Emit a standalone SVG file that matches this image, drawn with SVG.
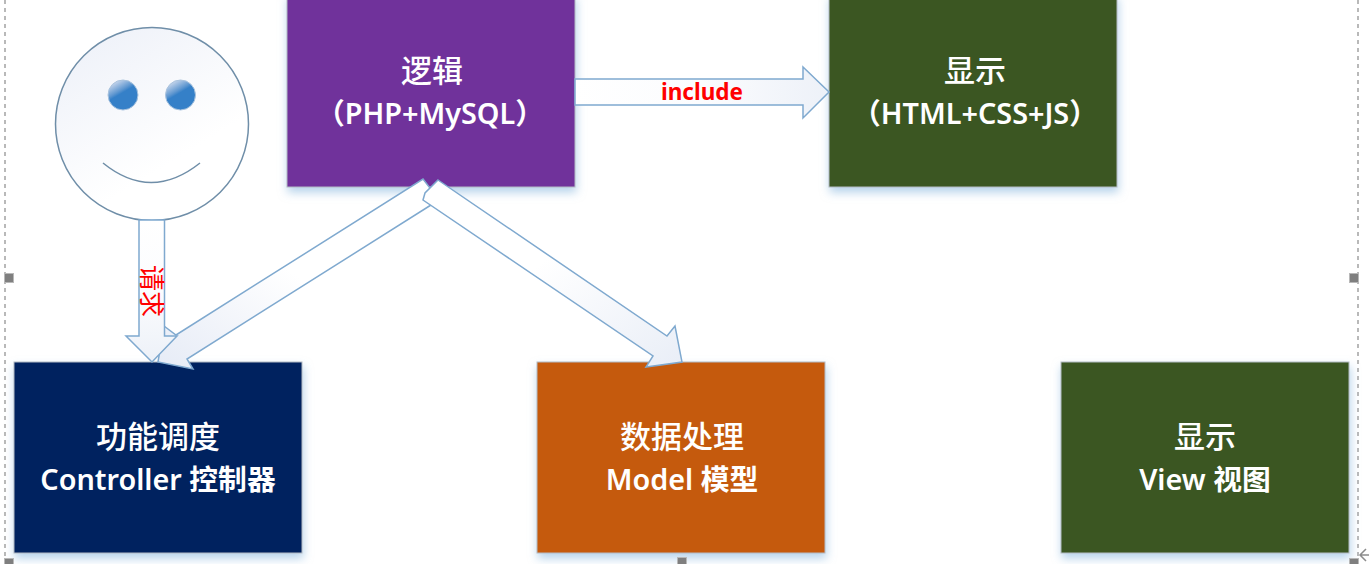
<svg xmlns="http://www.w3.org/2000/svg" width="1371" height="564" viewBox="0 0 1371 564">
<style>
.box{stroke:#b4bcc4;stroke-width:1;filter:url(#sh)}
.t{fill:#fff;font-family:"Noto Sans","Noto Sans CJK SC",sans-serif;font-weight:500;font-size:31px;text-anchor:middle}
.s{font-size:28.800px;font-weight:600}
.a{fill:url(#ag);stroke:#7fa9cf;stroke-width:1.5;stroke-linejoin:miter}
.sel{fill:none;stroke:#a3a3a3;stroke-width:1.5;stroke-dasharray:4 4}
.h{fill:#7f7f7f;stroke:#b8b8b8;stroke-width:1}
.red{fill:#f00;font-family:"Noto Sans","Noto Sans CJK SC",sans-serif;text-anchor:middle}
</style>
<defs>
<filter id="sh" x="-10%" y="-10%" width="120%" height="120%"><feDropShadow dx="1" dy="5" stdDeviation="5" flood-color="#8fbce0" flood-opacity="0.65"/></filter>
<linearGradient id="ag" x1="0" y1="0" x2="1" y2="1"><stop offset="0" stop-color="#fff"/><stop offset="0.45" stop-color="#fff"/><stop offset="1" stop-color="#e9eef7"/></linearGradient>
<linearGradient id="ag2" x1="1" y1="0" x2="0" y2="1"><stop offset="0" stop-color="#fff"/><stop offset="0.5" stop-color="#fff"/><stop offset="1" stop-color="#e6ebf6"/></linearGradient>
<linearGradient id="ag3" x1="0" y1="0" x2="1" y2="0"><stop offset="0" stop-color="#fff"/><stop offset="0.5" stop-color="#fbfcfe"/><stop offset="1" stop-color="#edf1f8"/></linearGradient>
<linearGradient id="ag4" x1="0" y1="0" x2="0" y2="1"><stop offset="0" stop-color="#fff"/><stop offset="0.5" stop-color="#fbfcfe"/><stop offset="1" stop-color="#edf1f8"/></linearGradient>
<linearGradient id="face" x1="0.2" y1="0.05" x2="0.6" y2="0.7"><stop offset="0" stop-color="#eff2f9"/><stop offset="1" stop-color="#fff"/></linearGradient>
<linearGradient id="eye" x1="0.25" y1="0" x2="0.6" y2="0.6"><stop offset="0" stop-color="#d5deef"/><stop offset="0.55" stop-color="#5f97d0"/><stop offset="0.7" stop-color="#3580c8"/><stop offset="1" stop-color="#3580c8"/></linearGradient>
</defs>
<rect width="1371" height="564" fill="#fff"/>
<g id="selection">
<path class="sel" d="M5 0V564M1358 0V558"/>
<rect class="h" x="4.500" y="273.500" width="9" height="9"/>
<rect class="h" x="1349.500" y="273.500" width="9" height="9"/>
</g>
<g id="node-logic"><rect class="box" x="287" y="-6" width="288" height="193" fill="#70309b"/>
<text class="t" x="432" y="82">逻辑</text><text class="t s" x="430" y="124">（PHP+MySQL）</text></g>
<g id="node-display-top"><rect class="box" x="829" y="-6" width="288" height="193" fill="#3a5623"/>
<text class="t" x="975" y="82">显示</text><text class="t s" x="975" y="124">（HTML+CSS+JS）</text></g>
<g id="node-controller"><rect class="box" x="14" y="362" width="288" height="191" fill="#00205f"/>
<text class="t" x="158" y="448">功能调度</text><text class="t s" x="158" y="490">Controller 控制器</text></g>
<g id="node-model"><rect class="box" x="537" y="362" width="288" height="191" fill="#c55a11"/>
<text class="t" x="682" y="448">数据处理</text><text class="t s" x="682" y="490">Model 模型</text></g>
<g id="node-view"><rect class="box" x="1061" y="362" width="288" height="191" fill="#3a5623"/>
<text class="t" x="1205" y="448">显示</text><text class="t s" x="1205" y="490">View 视图</text></g>
<g id="node-user">
<circle cx="152" cy="124" r="96.500" fill="url(#face)" stroke="#6f8ea8" stroke-width="1.500"/>
<circle cx="123" cy="95" r="15" fill="url(#eye)" stroke="#a9c3de" stroke-width="1"/>
<circle cx="180.500" cy="95" r="15" fill="url(#eye)" stroke="#a9c3de" stroke-width="1"/>
<path d="M103 163Q151 202 200 163" fill="none" stroke="#6f8ea8" stroke-width="1.500"/>
</g>
<g id="connectors">
<path class="a" style="fill:url(#ag2)" d="M423 179L430 188L431 205L187 359L193 369L158 362L164 326L176 335Z"/>
<path class="a" style="fill:url(#ag4)" d="M139 220H164.500V336H177L152 362L126 336H139Z"/>
<path class="a" d="M438 180L667 336L675 326L682 362L646 367L653 356L423 200L425 193Z"/>
<path class="a" style="fill:url(#ag3)" d="M575 79H803V67L829 92L803 118V105H575Z"/>
<text class="red" x="702" y="100" font-size="22.500" font-weight="700">include</text>
<text class="red" x="151" y="291" font-size="26" font-weight="400" transform="rotate(90 151 291)" dy="9">请求</text>
</g>
<g id="handles">
<rect class="h" x="4.500" y="558.500" width="9" height="9"/>
<rect class="h" x="677.500" y="557.500" width="9" height="9"/>
<rect class="h" x="1349.500" y="558.500" width="9" height="9"/>
<path d="M1369 555H1360M1366 549L1360 555L1366 561" fill="none" stroke="#8c8c8c" stroke-width="1.500"/>
</g>
</svg>
